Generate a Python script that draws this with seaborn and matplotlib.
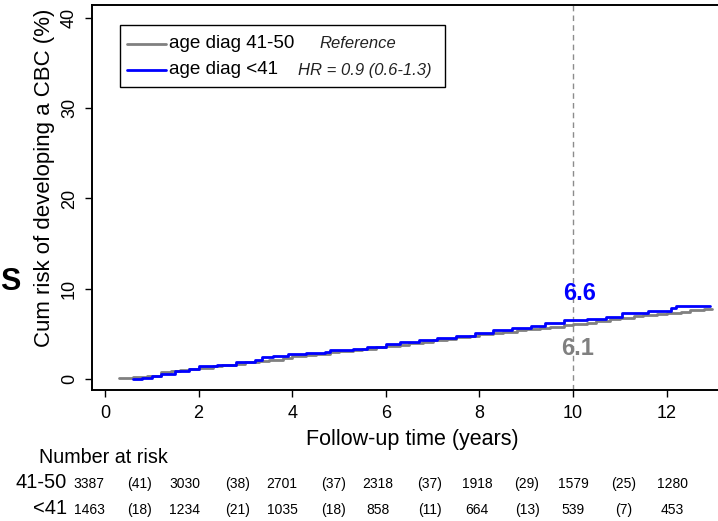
import numpy as np
import pandas as pd
import matplotlib
matplotlib.use("Agg")
import matplotlib.pyplot as plt
from matplotlib.lines import Line2D
from matplotlib.patches import Rectangle
from matplotlib import font_manager
import seaborn as sns

# ---------------- data ----------------
groups = ["age diag 41-50", "age diag <41"]
legend_notes = ["Reference", "HR = 0.9 (0.6-1.3)"]
colors = ["#808080", "#0000FF"]

time_4150 = [0.3, 0.6, 0.9, 1.2, 1.4, 1.6, 1.8, 2.0, 2.3, 2.5, 2.8, 3.0, 3.3, 3.5, 3.8,
             4.0, 4.3, 4.5, 4.8, 5.0, 5.3, 5.5, 5.8, 6.0, 6.3, 6.5, 6.8, 7.0, 7.3,
             7.5, 7.8, 8.0, 8.3, 8.5, 8.8, 9.0, 9.3, 9.5, 9.8, 10.0, 10.3, 10.5,
             10.8, 11.0, 11.3, 11.5, 11.8, 12.0, 12.3, 12.5, 12.8, 12.97]
cum_4150 = [0.1, 0.2, 0.35, 0.75, 0.85, 1.0, 1.1, 1.25, 1.4, 1.55, 1.7, 1.85, 2.0, 2.15, 2.35,
            2.5, 2.65, 2.8, 2.95, 3.1, 3.2, 3.35, 3.55, 3.7, 3.8, 3.95, 4.15, 4.3, 4.45,
            4.6, 4.8, 4.95, 5.1, 5.25, 5.4, 5.5, 5.65, 5.8, 5.95, 6.1, 6.25, 6.4,
            6.6, 6.8, 6.95, 7.1, 7.2, 7.3, 7.45, 7.6, 7.7, 7.8]

time_lt41 = [0.6, 0.8, 1.0, 1.2, 1.5, 1.8, 2.0, 2.4, 2.8, 3.2, 3.35, 3.6, 3.9, 4.3, 4.7,
             4.8, 5.3, 5.6, 6.0, 6.3, 6.7, 7.1, 7.5, 7.9, 8.3, 8.7, 9.1, 9.4, 9.8,
             10.3, 10.7, 11.05, 11.6, 12.1, 12.2, 12.93]
cum_lt41 = [0.0, 0.1, 0.3, 0.6, 0.9, 1.1, 1.45, 1.6, 1.85, 2.1, 2.4, 2.6, 2.8, 2.9, 3.0,
            3.2, 3.3, 3.6, 3.9, 4.1, 4.3, 4.5, 4.8, 5.1, 5.4, 5.7, 5.9, 6.2, 6.5,
            6.7, 6.9, 7.3, 7.5, 7.9, 8.1, 8.1]

x_ticks = [0, 2, 4, 6, 8, 10, 12]
y_ticks = [0, 10, 20, 30, 40]
marker_year = 10
value_at_10 = ["6.1", "6.6"]

risk_rows = ["41-50", "<41"]
risk_4150 = ["3387", "3030", "2701", "2318", "1918", "1579", "1280"]
events_4150 = ["(41)", "(38)", "(37)", "(37)", "(29)", "(25)"]
risk_lt41 = ["1463", "1234", "1035", "858", "664", "539", "453"]
events_lt41 = ["(18)", "(21)", "(18)", "(11)", "(13)", "(7)"]

# ---------------- style ----------------
sns.set_theme(style="white")
plt.rcParams["font.family"] = ["Liberation Sans", "DejaVu Sans"]

W, H = 718, 521
fig = plt.figure(figsize=(W / 100, H / 100), dpi=100)

def fx(px):
    return px / W

def fy(py):
    return 1 - py / H

ax_left, ax_right, ax_top, ax_bottom = 92, 718, 5, 390
ax = fig.add_axes([fx(ax_left), fy(ax_bottom), fx(ax_right - ax_left), (ax_bottom - ax_top) / H])

df = pd.concat([
    pd.DataFrame({"time": time_4150, "cum": cum_4150, "group": groups[0]}),
    pd.DataFrame({"time": time_lt41, "cum": cum_lt41, "group": groups[1]}),
])
palette = dict(zip(groups, colors))
sns.lineplot(data=df, x="time", y="cum", hue="group", palette=palette,
             estimator=None, drawstyle="steps-post", linewidth=2.0,
             legend=False, ax=ax)

ax.axvline(marker_year, color="#8c8c8c", linestyle=(0, (4, 3)), linewidth=1.0, zorder=0)

ax.text(10.15, 9.5, value_at_10[1], color=colors[1], fontsize=17, fontweight="bold",
        ha="center", va="center")
ax.text(10.1, 3.4, value_at_10[0], color=colors[0], fontsize=17, fontweight="bold",
        ha="center", va="center")

ax.set_xlim(-0.278, 13.10)
ax.set_ylim(-1.22, 41.44)
ax.set_xticks(x_ticks)
ax.set_yticks(y_ticks)
ax.tick_params(axis="both", which="both", direction="out", length=5, width=1,
               color="black", labelsize=13, labelcolor="black", pad=5,
               left=True, bottom=True)
ax.tick_params(axis="x", pad=6)
for lab in ax.get_yticklabels():
    lab.set_rotation(90)
    lab.set_va("center")

for s in ["left", "top", "bottom"]:
    ax.spines[s].set_visible(True)
    ax.spines[s].set_color("black")
    ax.spines[s].set_linewidth(1.4)
ax.spines["right"].set_visible(False)

ax.set_xlabel("Follow-up time (years)", fontsize=15.5, color="black")
ax.set_ylabel("Cum risk of developing a CBC (%)", fontsize=16, color="black")
ax.xaxis.set_label_coords(fx(412), fy(429), transform=fig.transFigure)
ax.yaxis.set_label_coords(fx(55), fy(178), transform=fig.transFigure)

# ---------------- legend box ----------------
fig.patches.append(Rectangle((fx(120), fy(87)), fx(445 - 120), (87 - 25) / H,
                             transform=fig.transFigure, fill=False,
                             edgecolor="black", linewidth=1.0))
legend_y = [44, 70]
for g, c, yy in zip(groups, colors, legend_y):
    fig.lines.append(Line2D([fx(127), fx(166)], [fy(yy), fy(yy)], color=c,
                            linewidth=2.0, transform=fig.transFigure))
    fig.text(fx(169), fy(yy), g, fontsize=13.6, ha="left", va="center", color="black")
note_x = [319, 298]
for note, nx, yy in zip(legend_notes, note_x, legend_y):
    fig.text(fx(nx), fy(yy), note, fontsize=12, style="italic", ha="left",
             va="center", color="#222222")

# ---------------- number at risk table ----------------
fig.text(fx(39), fy(463), "Number at risk", fontsize=14.2, ha="left", va="baseline",
         color="black")
has_narrow = any("Narrow" in f.name for f in font_manager.fontManager.ttflist)
if has_narrow:
    num_family = ["Liberation Sans Narrow", "Liberation Sans"]
    num_size = 10.0
else:
    num_family = ["Liberation Sans", "DejaVu Sans"]
    num_size = 8.8
num_x = [89, 185, 282, 378, 477, 573, 672]
par_x = [139, 238, 334, 430, 527, 624]
row_base = [488, 514]
for lab, nums, evs, yb in zip(risk_rows, [risk_4150, risk_lt41],
                              [events_4150, events_lt41], row_base):
    fig.text(fx(67), fy(yb), lab, fontsize=14.5, ha="right", va="baseline", color="black")
    for v, xx in zip(nums, num_x):
        fig.text(fx(xx), fy(yb), v, fontsize=num_size, family=num_family, ha="center",
                 va="baseline", color="black")
    for v, xx in zip(evs, par_x):
        fig.text(fx(xx), fy(yb), v, fontsize=num_size, family=num_family, ha="center",
                 va="baseline", color="black")

# panel letter at the left edge
fig.text(fx(0), fy(290), "S", fontsize=22, fontweight="bold", ha="left",
         va="baseline", color="black")

fig.savefig("out.png", dpi=100)
